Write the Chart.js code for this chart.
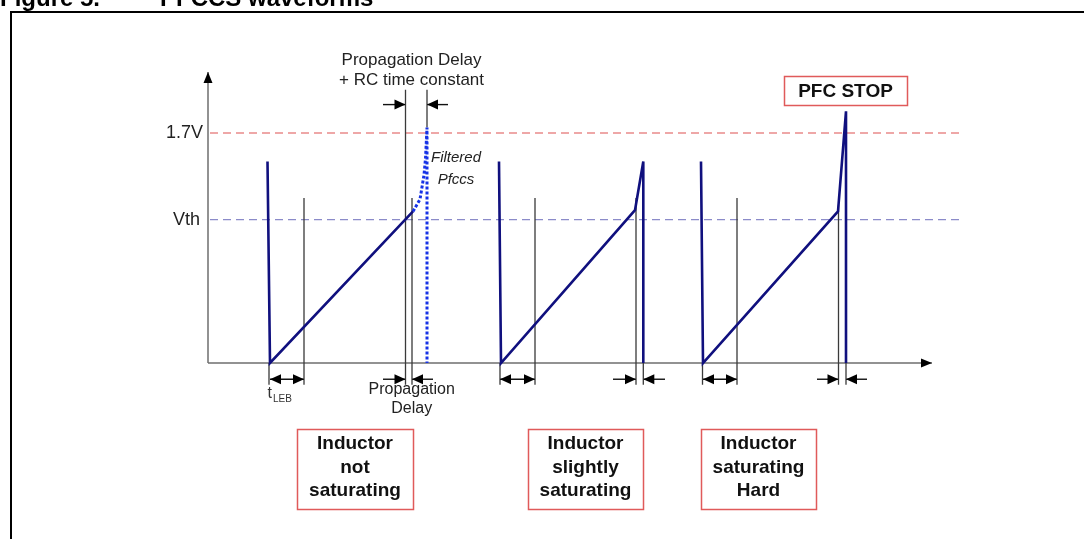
<!DOCTYPE html>
<html>
<head>
<meta charset="utf-8">
<title>PFCCS waveforms</title>
<script src="https://cdn.jsdelivr.net/npm/chart.js@4.4.1/dist/chart.umd.min.js"></script>
<style>
  html, body { margin: 0; padding: 0; background: #fff; }
  canvas { display: block; }
</style>
</head>
<body>
<canvas id="waveChart" width="1084" height="539"></canvas>
<script>
// time is in arbitrary units, voltage in V
const V_LIMIT = 1.7;
const V_TH = 1.06;
const levelLabels = ['1.7V', 'Vth'];
const levelValues = [V_LIMIT, V_TH];

// Pfccs pin, one array per switching cycle
const pfccsTime = [
    [5.95, 6.2, 20.5],
    [29.1, 29.3, 42.7, 43.53, 43.53],
    [49.3, 49.5, 63.0, 63.8, 63.8]
];
const pfccsVolt = [
    [1.49, 0, 1.12],
    [1.49, 0, 1.13, 1.49, 0],
    [1.49, 0, 1.12, 1.86, 0]
];

// filtered Pfccs (first cycle only)
const filteredTime = [20.5, 21.2, 21.6, 21.75, 21.9, 21.9];
const filteredVolt = [1.12, 1.21, 1.39, 1.51, 1.74, 0];

// thin timing marker lines
const markerTime   = [6.1, 9.6, 19.75, 20.4, 21.9, 29.2, 32.7, 42.8, 43.53, 49.45, 52.9, 63.05, 63.8];
const markerTop    = [0, 1.22, 2.02, 1.22, 2.02, 0, 1.22, 1.22, 0, 0, 1.22, 1.17, 0];
const markerBottom = [-0.16, -0.16, -0.16, -0.16, 1.74, -0.16, -0.16, -0.16, -0.16, -0.16, -0.16, -0.16, -0.16];

// dimension arrows (head at "to", both ends when double)
const dimFrom   = [6.2, 17.5, 24.0, 17.5, 22.5, 29.2, 40.5, 45.7, 49.5, 60.9, 65.9];
const dimTo     = [9.6, 19.75, 21.9, 19.75, 20.4, 32.7, 42.8, 43.53, 52.9, 63.05, 63.8];
const dimLevel  = [-0.12, 1.91, 1.91, -0.12, -0.12, -0.12, -0.12, -0.12, -0.12, -0.12, -0.12];
const dimDouble = [true, false, false, false, false, true, false, false, true, false, false];

const axisTimeMax = 72.4;
const axisVoltMax = 2.15;
const levelLineFrom = 0.2;
const levelLineTo = 75.4;

const cycleLabels = [
    ['Inductor', 'not', 'saturating'],
    ['Inductor', 'slightly', 'saturating'],
    ['Inductor', 'saturating', 'Hard']
];

// page layout (pixels)
const W = 1084, H = 539;
const ORIGIN_X = 208, ORIGIN_Y = 363;
const PX_PER_T = 10;
const PX_PER_V = 230 / 1.7;
const cycleBoxes = [[297, 429, 116, 80], [528, 429, 115, 80], [701, 429, 115, 80]];
const stopBox = [784, 76, 123, 29];
const FONT = '"Liberation Sans", Arial, Helvetica, sans-serif';

const NAVY = '#10107e';
const MARK = '#3a3a3a';

function pts(xs, ys) {
    return xs.map((x, i) => ({ x: x, y: ys[i] }));
}

const datasets = [];

pfccsTime.forEach((ts, c) => {
    datasets.push({ label: 'Pfccs', data: pts(ts, pfccsVolt[c]), borderColor: NAVY, borderWidth: 2.6 });
});

datasets.push({
    label: 'Filtered Pfccs',
    data: pts(filteredTime, filteredVolt),
    borderColor: '#1632e6',
    borderWidth: 3,
    borderDash: [3, 2]
});

markerTime.forEach((t, i) => {
    datasets.push({ label: 'marker', data: pts([t, t], [markerTop[i], markerBottom[i]]), borderColor: MARK, borderWidth: 1.3 });
});

dimFrom.forEach((f, i) => {
    datasets.push({
        label: 'dim',
        data: pts([f, dimTo[i]], [dimLevel[i], dimLevel[i]]),
        borderColor: '#111',
        borderWidth: 1.4,
        arrowHead: dimDouble[i] ? 'both' : 'end',
        headLen: 11,
        headHalf: 5
    });
});

datasets.push({
    label: 'level',
    data: pts([levelLineFrom, levelLineTo], [V_LIMIT, V_LIMIT]),
    borderColor: '#e98a8a', borderWidth: 1.5, borderDash: [8, 5]
});
datasets.push({
    label: 'level',
    data: pts([levelLineFrom, levelLineTo], [V_TH, V_TH]),
    borderColor: '#8b8bc9', borderWidth: 1.3, borderDash: [8, 5]
});

// axes
datasets.push({
    label: 'axis', data: pts([0, 0], [0, axisVoltMax]),
    borderColor: '#6e6e6e', borderWidth: 1.5, arrowHead: 'end', headLen: 11, headHalf: 4.5
});
datasets.push({
    label: 'axis', data: pts([0, axisTimeMax], [0, 0]),
    borderColor: '#6e6e6e', borderWidth: 1.5, arrowHead: 'end', headLen: 11, headHalf: 4.5
});

datasets.forEach(d => {
    d.showLine = true;
    d.pointRadius = 0;
    d.pointHoverRadius = 0;
    d.fill = false;
    d.tension = 0;
});

function drawHead(ctx, tip, from, len, half) {
    const a = Math.atan2(tip.y - from.y, tip.x - from.x);
    const bx = tip.x - len * Math.cos(a), by = tip.y - len * Math.sin(a);
    ctx.beginPath();
    ctx.moveTo(tip.x, tip.y);
    ctx.lineTo(bx + half * Math.sin(a), by - half * Math.cos(a));
    ctx.lineTo(bx - half * Math.sin(a), by + half * Math.cos(a));
    ctx.closePath();
    ctx.fill();
}

// arrowheads on dimension lines and axes
const arrowPlugin = {
    id: 'arrowHeads',
    afterDatasetsDraw(chart) {
        const ctx = chart.ctx;
        ctx.save();
        ctx.fillStyle = '#000';
        chart.data.datasets.forEach((ds, i) => {
            if (!ds.arrowHead) return;
            const p = chart.getDatasetMeta(i).data;
            const n = p.length;
            drawHead(ctx, p[n - 1], p[n - 2], ds.headLen, ds.headHalf);
            if (ds.arrowHead === 'both') drawHead(ctx, p[0], p[1], ds.headLen, ds.headHalf);
        });
        ctx.restore();
    }
};

// texts, label boxes, frame and title
const textPlugin = {
    id: 'texts',
    afterDraw(chart) {
        const ctx = chart.ctx;
        const xs = chart.scales.x, ys = chart.scales.y;
        const X = t => xs.getPixelForValue(t);
        const Y = v => ys.getPixelForValue(v);
        function text(s, x, y, font, align, color) {
            ctx.font = font;
            ctx.textAlign = align || 'center';
            ctx.textBaseline = 'middle';
            ctx.fillStyle = color || '#222';
            ctx.fillText(s, x, y);
        }
        ctx.save();

        // frame + clipped title
        ctx.strokeStyle = '#000';
        ctx.lineWidth = 2;
        ctx.strokeRect(11, 12, W + 20, H + 20);
        ctx.font = 'bold 24px ' + FONT;
        ctx.textAlign = 'left';
        ctx.textBaseline = 'alphabetic';
        ctx.fillStyle = '#000';
        ctx.fillText('Figure 5.', 0, 6);
        ctx.fillText('PFCCS waveforms', 160, 6);

        // level labels
        text(levelLabels[0], X(-0.5), Y(levelValues[0]), '18px ' + FONT, 'right');
        text(levelLabels[1], X(-0.8), Y(levelValues[1]), '18px ' + FONT, 'right');

        // delay annotations
        text('Propagation Delay', X(20.35), Y(2.24), '17px ' + FONT);
        text('+ RC time constant', X(20.35), Y(2.087), '17px ' + FONT);
        text('Propagation', X(20.37), Y(-0.2), '16px ' + FONT);
        text('Delay', X(20.37), Y(-0.34), '16px ' + FONT);
        text('Filtered', X(24.8), Y(1.515), 'italic 15px ' + FONT);
        text('Pfccs', X(24.8), Y(1.353), 'italic 15px ' + FONT);

        ctx.textBaseline = 'alphabetic';
        ctx.textAlign = 'left';
        ctx.fillStyle = '#333';
        ctx.font = '16px ' + FONT;
        ctx.fillText('t', X(5.95), Y(-0.255));
        ctx.font = '10px ' + FONT;
        ctx.fillText('LEB', X(6.5), Y(-0.29));

        // boxes
        ctx.strokeStyle = '#e05a5a';
        ctx.lineWidth = 1.5;
        cycleBoxes.forEach((b, i) => {
            ctx.strokeRect(b[0] + 0.5, b[1] + 0.5, b[2], b[3]);
            cycleLabels[i].forEach((line, k) => {
                text(line, b[0] + b[2] / 2, b[1] + 15 + k * 23.5, 'bold 19px ' + FONT, 'center', '#111');
            });
        });
        ctx.strokeRect(stopBox[0] + 0.5, stopBox[1] + 0.5, stopBox[2], stopBox[3]);
        text('PFC STOP', stopBox[0] + stopBox[2] / 2, stopBox[1] + stopBox[3] / 2 + 1, 'bold 19px ' + FONT, 'center', '#111');

        ctx.restore();
    }
};

new Chart(document.getElementById('waveChart').getContext('2d'), {
    type: 'scatter',
    data: { datasets: datasets },
    options: {
        responsive: false,
        animation: false,
        events: [],
        layout: { padding: 0 },
        scales: {
            x: { type: 'linear', display: false, min: -ORIGIN_X / PX_PER_T, max: (W - ORIGIN_X) / PX_PER_T },
            y: { type: 'linear', display: false, min: -(H - ORIGIN_Y) / PX_PER_V, max: ORIGIN_Y / PX_PER_V }
        },
        plugins: {
            legend: { display: false },
            tooltip: { enabled: false }
        }
    },
    plugins: [arrowPlugin, textPlugin]
});
</script>
</body>
</html>
